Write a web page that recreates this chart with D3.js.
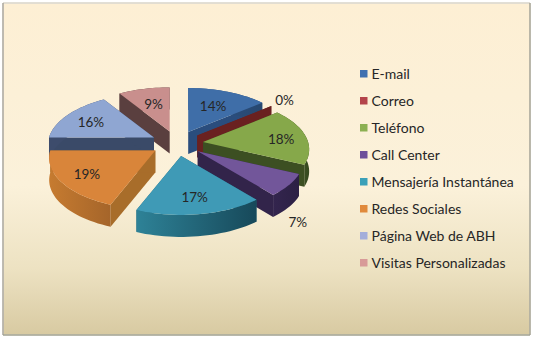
<!DOCTYPE html>
<html>
<head>
<meta charset="utf-8">
<style>
html,body{margin:0;padding:0;background:#fff;}
svg{display:block;}
text{font-family:Lato,"Open Sans",sans-serif;fill:#262626;}
</style>
<script src="https://cdn.jsdelivr.net/npm/d3@7"></script>
</head>
<body>
<svg id="chart" width="537" height="344"></svg>
<script>
// Contact channels and their share of responses
const categories = ["E-mail","Correo","Teléfono","Call Center","Mensajería Instantánea","Redes Sociales","Página Web de ABH","Visitas Personalizadas"];
const shares = [14,0,18,7,17,19,16,9];

// Per-channel colours: top face, legend key, wall gradient ends, cut-face
const topColors = ["#3f6ea8","#a8403e","#86a84a","#72569a","#3f9ab6","#d9853a","#8fa6d2","#c98f8d"];
const keyColors = ["#3f70b0","#b4444a","#8cb052","#6d4f9a","#3ba0b8","#e08a3c","#a4aeda","#d89a98"];
const wallLeft = ["#2f5488","#6a2120","#4c5f2a","#33254e","#2e8297","#c67b30","#3d4c6c","#5a3f3f"];
const wallRight = ["#274870","#6a2120","#364a20","#2c2044","#17495a","#a5652a","#3d4c6c","#5a3f3f"];
const cutColors = ["#2a4d7d","#6a2120","#3c4f22","#32244a","#1f6478","#a86d2a","#3a4a68","#5a3f3f"];

// Label placement along each slice's middle direction
const labelRadii = [0.6,1.2,0.76,1.09,0.74,0.74,0.72,0.6];
const labelDrops = [0,0,2,34,0,2,2,0];

// Tilted-disc projection with a mild perspective on the radial part
const cx = 177, cy = 143.5, radiusX = 105, radiusY = 50.4, perspective = 0.145;
const explode = 0.25, depth = 22;

const pie = d3.pie().sort(null).value(d => d).startAngle(0).endAngle(2 * Math.PI);
const arcs = pie(shares);
const svg = d3.select("#chart");
const defs = svg.append("defs");

// Frame background and its uneven edge lines
const bg = defs.append("linearGradient").attr("id","bg").attr("x1",0).attr("y1",0).attr("x2",0).attr("y2",1);
[[0,"#fdefd4"],[0.55,"#fbf1da"],[0.8,"#ede2c2"],[1,"#d8caa2"]].forEach(([o,c]) => bg.append("stop").attr("offset",o).attr("stop-color",c));
svg.append("rect").attr("x",3.5).attr("y",3.5).attr("width",526).attr("height",331).attr("fill","url(#bg)");
const edges = [[3,3,530,3,"#d8d4c8"],[3,3,3,335,"#a9a59a"],[530,3,530,335,"#a3a090"],[3,335,530,335,"#a0a08f"]];
svg.append("g").selectAll("line").data(edges).join("line")
  .attr("x1",d => d[0]).attr("y1",d => d[1]).attr("x2",d => d[2]).attr("y2",d => d[3])
  .attr("stroke",d => d[4]).attr("stroke-width",1.5);

const line = d3.line();
const screen = (angle, r, arc, drop = 0) => {
  const mid = (arc.startAngle + arc.endAngle) / 2;
  const x = Math.sin(angle) * r, v = -Math.cos(angle) * r;
  const s = 1 / (1 - perspective * v);
  return [
    cx + radiusX * (x * s + Math.sin(mid) * explode),
    cy + radiusY * (v * s - Math.cos(mid) * explode) + drop
  ];
};
const arcPoints = (arc, drop = 0) => {
  const n = Math.max(1, Math.ceil((arc.endAngle - arc.startAngle) / 0.04));
  return d3.range(n + 1).map(i => screen(arc.startAngle + (arc.endAngle - arc.startAngle) * i / n, 1, arc, drop));
};

// Painter's order: far slices first, near slices last
const drawOrder = [7,6,0,1,2,3,5,4];
const slices = svg.append("g").selectAll("g").data(drawOrder).join("g");

slices.each(function(i) {
  const arc = arcs[i], g = d3.select(this);
  const apex = screen(0, 0, arc), apexLow = screen(0, 0, arc, depth);
  const outer = arcPoints(arc), outerLow = arcPoints(arc, depth);

  const grad = defs.append("linearGradient").attr("id","wall"+i);
  grad.append("stop").attr("offset",0).attr("stop-color",wallLeft[i]);
  grad.append("stop").attr("offset",1).attr("stop-color",wallRight[i]);

  // cut faces at both ends of the slice
  [outer[0], outer[outer.length-1]].forEach((p, k) => {
    const low = k ? outerLow[outerLow.length-1] : outerLow[0];
    g.append("path").attr("d", line([apex,p,low,apexLow]) + "Z").attr("fill",cutColors[i]);
  });
  // curved rim and top face
  if (arc.endAngle > arc.startAngle) {
    g.append("path").attr("d", line(outer.concat(outerLow.slice().reverse())) + "Z").attr("fill","url(#wall"+i+")");
    g.append("path").attr("d", line([apex].concat(outer)) + "Z").attr("fill",topColors[i]);
  }
});

// Percentage labels
svg.append("g").selectAll("text").data(arcs).join("text")
  .attr("text-anchor","middle").attr("font-size",13.5)
  .attr("x",(d,i) => screen((d.startAngle+d.endAngle)/2, labelRadii[i], d)[0])
  .attr("y",(d,i) => screen((d.startAngle+d.endAngle)/2, labelRadii[i], d)[1] + labelDrops[i] + 4.5)
  .text(d => d.data + "%");

// Legend
const legendY = d3.scalePoint().domain(categories).range([74,263]);
const legend = svg.append("g").selectAll("g").data(categories).join("g")
  .attr("transform", d => `translate(360,${legendY(d)})`);
legend.append("rect").attr("x",0).attr("y",-4).attr("width",7.5).attr("height",7.5)
  .attr("fill",(d,i) => keyColors[i]);
legend.append("text").attr("x",11.5).attr("y",4.5).attr("font-size",14).text(d => d);
</script>
</body>
</html>
